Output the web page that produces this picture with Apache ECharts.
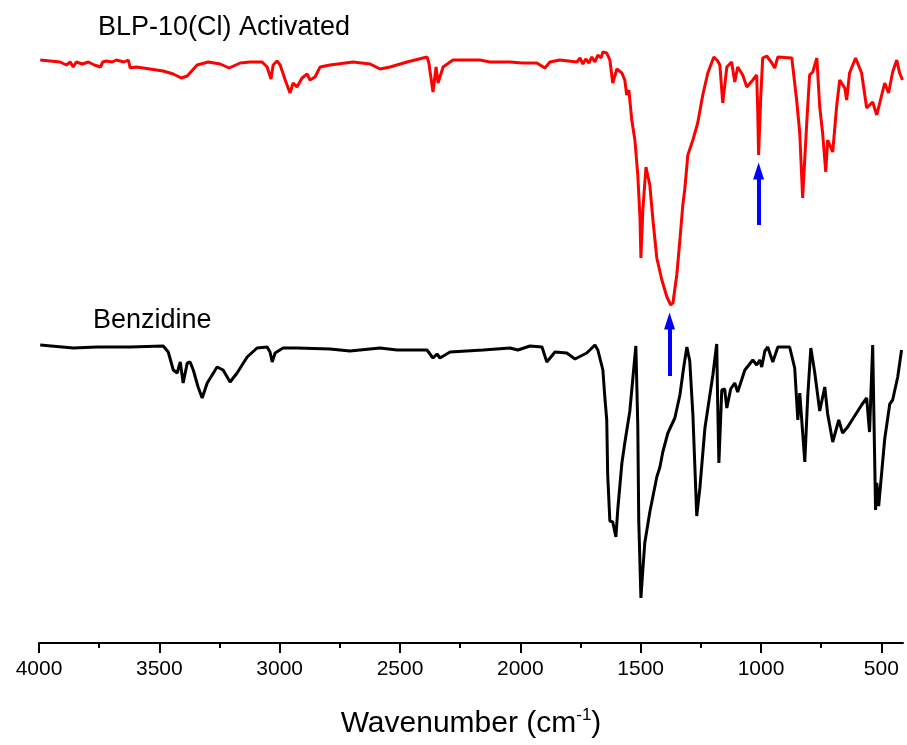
<!DOCTYPE html>
<html>
<head>
<meta charset="utf-8">
<script src="https://cdn.jsdelivr.net/npm/echarts@6/dist/echarts.min.js"></script>
<style>
html,body{margin:0;padding:0;background:#fff;}
#chart{width:907px;height:745px;}
</style>
</head>
<body>
<div id="chart"></div>
<script>
// ---- data (wavenumber cm^-1, transmittance in arbitrary units) ----
const blpName = 'BLP-10(Cl) Activated';
const benzName = 'Benzidine';

const blpSpectrum = [
[3995,583],[3953,582],[3912,581],[3887,578],[3870,581],[3858,576],[3845,581],[3820,579],[3795,581],[3770,578],
[3745,576],[3735,581],[3721,582],[3696,581],[3679,583],[3662,582],[3646,581],[3629,583],[3621,575],[3596,576],[3567,575],
[3484,572],[3442,569],[3409,565],[3384,567],[3343,578],[3297,581],[3247,579],[3210,575],[3164,580],[3123,581],
[3073,581],[3052,576],[3036,564],[3027,578],[3011,582],[2998,578],[2977,563],[2957,550],[2944,560],[2928,556],
[2907,565],[2886,569],[2874,563],[2853,566],[2832,576],[2791,578],[2695,581],[2624,579],[2583,574],[2541,576],
[2471,581],[2388,586],[2380,580],[2363,551],[2350,576],[2342,560],[2321,576],[2280,583],[2168,583],[2126,581],
[2043,581],[1993,580],[1931,580],[1898,575],[1877,581],[1836,583],[1765,581],[1752,585],[1740,579],[1728,584],
[1715,580],[1703,586],[1690,581],[1678,588],[1665,585],[1657,591],[1649,592],[1641,590],[1637,588],[1628,583],
[1616,560],[1599,574],[1578,570],[1566,563],[1558,548],[1549,553],[1537,523],[1524,503],[1512,468],[1503,426],
[1499,385],[1491,433],[1478,476],[1462,458],[1449,423],[1433,385],[1412,363],[1391,346],[1375,338],[1366,340],
[1350,368],[1337,403],[1325,438],[1317,453],[1304,488],[1283,503],[1263,520],[1242,548],[1221,570],[1196,586],
[1180,582],[1171,578],[1159,540],[1142,576],[1122,581],[1109,561],[1097,576],[1076,568],[1059,556],[1034,563],
[1018,568],[1014,536],[1010,488],[1001,546],[993,585],[976,587],[955,580],[943,575],[930,586],[872,585],
[852,543],[839,510],[827,445],[810,520],[798,568],[785,571],[768,585],[756,536],[744,510],[731,471],
[723,503],[702,491],[686,536],[673,563],[652,555],[644,543],[632,570],[607,585],[582,570],[561,535],
[536,541],[519,528],[486,560],[470,550],[453,571],[436,583],[424,570],[412,563]
];

const benzSpectrum = [
[3995,298],[3858,295],[3758,296],[3621,296],[3484,297],[3463,291],[3442,273],[3426,270],[3413,281],[3401,260],
[3384,280],[3372,281],[3359,273],[3339,256],[3322,245],[3301,260],[3260,276],[3235,273],[3206,261],[3177,270],
[3135,286],[3094,295],[3052,296],[3040,291],[3031,281],[3019,290],[2986,295],[2928,295],[2791,294],[2708,292],
[2583,295],[2512,293],[2388,293],[2363,285],[2346,289],[2334,285],[2292,291],[2155,293],[2043,295],[2010,293],
[1960,297],[1910,296],[1890,281],[1856,291],[1807,290],[1773,284],[1724,290],[1690,298],[1678,293],[1657,273],
[1649,246],[1641,223],[1637,168],[1628,122],[1616,121],[1603,106],[1595,134],[1578,180],[1566,200],[1545,232],
[1532,266],[1520,297],[1512,218],[1508,123],[1499,45],[1491,73],[1483,100],[1462,131],[1433,166],[1420,176],
[1408,191],[1387,210],[1358,225],[1337,248],[1321,276],[1308,296],[1296,282],[1283,228],[1267,127],[1254,155],
[1233,215],[1200,268],[1184,299],[1180,240],[1175,180],[1163,253],[1151,254],[1142,235],[1126,254],[1109,260],
[1097,251],[1067,273],[1034,283],[1018,278],[1005,283],[997,276],[984,292],[972,296],[951,281],[930,296],
[881,296],[860,275],[847,223],[839,250],[818,181],[806,246],[793,295],[777,271],[756,232],[735,256],
[723,229],[702,201],[677,223],[661,210],[640,216],[582,238],[561,245],[549,211],[536,298],[524,133],
[519,160],[511,137],[486,204],[465,239],[453,243],[432,266],[416,293]
];

const majorTicks = [4000, 3500, 3000, 2500, 2000, 1500, 1000, 500];
const minorTicks = [3750, 3250, 2750, 2250, 1750, 1250, 750];
const xRange = [410, 4000];
const yRange = [0, 643];

// arrows: [wavenumber, tail value, head value]
const arrows = [[1010, 418, 472], [1380, 267, 322]];

const FONT = '"Liberation Sans", Arial, Helvetica, sans-serif';

const chart = echarts.init(document.getElementById('chart'), null, {renderer: 'canvas'});

const option = {
  animation: false,
  backgroundColor: '#ffffff',
  grid: {left: 39, right: 4, top: 0, bottom: 102, containLabel: false},
  xAxis: [{
    type: 'value',
    inverse: true,
    min: xRange[0], max: xRange[1],
    name: '{a|Wavenumber (cm}{s|-1}{a|)}',
    nameLocation: 'middle',
    nameGap: 64,
    nameTextStyle: {
      rich: {
        a: {fontSize: 30, fontFamily: FONT, color: '#000', lineHeight: 34},
        s: {fontSize: 17, fontFamily: FONT, color: '#000', verticalAlign: 'top', lineHeight: 34}
      }
    },
    axisLine: {show: true, onZero: false, lineStyle: {color: '#000', width: 2}},
    axisTick: {show: true, inside: false, length: 10, lineStyle: {color: '#000', width: 2}, customValues: majorTicks},
    axisLabel: {show: true, margin: 16, fontSize: 21, fontFamily: FONT, color: '#000', customValues: majorTicks,
      formatter: v => String(v)},
    splitLine: {show: false}
  }, {
    type: 'value',
    inverse: true,
    position: 'bottom',
    min: xRange[0], max: xRange[1],
    axisLine: {show: false},
    axisTick: {show: true, inside: false, length: 5, lineStyle: {color: '#000', width: 2}, customValues: minorTicks},
    axisLabel: {show: false, customValues: minorTicks},
    splitLine: {show: false}
  }],
  yAxis: {
    type: 'value', min: yRange[0], max: yRange[1],
    show: false, splitLine: {show: false}
  },
  series: [{
    name: blpName,
    type: 'line',
    data: blpSpectrum,
    showSymbol: false,
    lineStyle: {color: '#ff0000', width: 3},
    z: 3,
    markLine: {
      silent: true,
      symbol: ['none', 'triangle'],
      symbolSize: [11, 17],
      label: {show: false},
      lineStyle: {color: '#0000ff', width: 4, type: 'solid'},
      itemStyle: {color: '#0000ff'},
      data: arrows.map(a => [{coord: [a[0], a[1]]}, {coord: [a[0], a[2]]}])
    }
  }, {
    name: benzName,
    type: 'line',
    data: benzSpectrum,
    showSymbol: false,
    lineStyle: {color: '#000000', width: 3},
    z: 3
  }],
  graphic: [{
    type: 'text', left: 98, top: 14,
    style: {text: blpName, fontSize: 27, fontFamily: FONT, fill: '#000'}
  }, {
    type: 'text', left: 93, top: 307,
    style: {text: benzName, fontSize: 27, fontFamily: FONT, fill: '#000'}
  }]
};
chart.setOption(option);
</script>
</body>
</html>
